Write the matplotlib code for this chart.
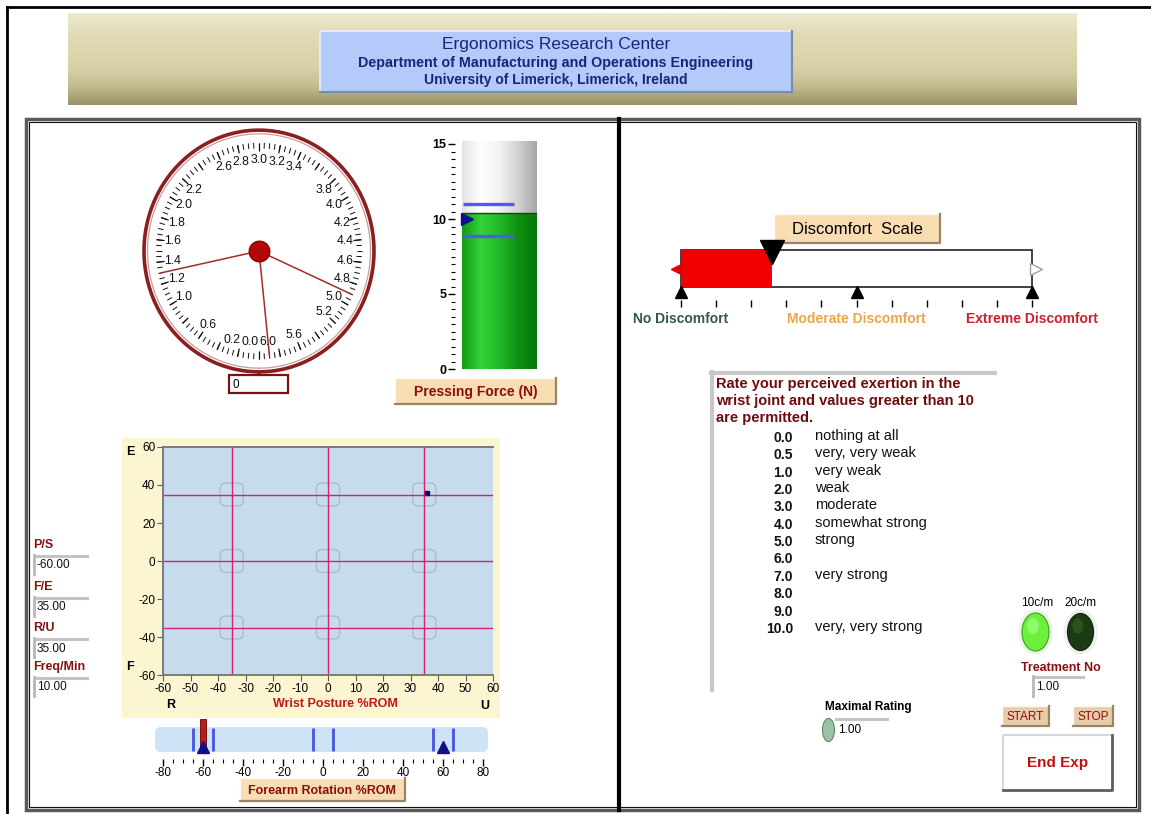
import numpy as np
import matplotlib
matplotlib.use('Agg')
import matplotlib.pyplot as plt
from matplotlib.patches import Rectangle, FancyBboxPatch, Ellipse
from matplotlib.colors import LinearSegmentedColormap
from matplotlib import font_manager

# figure size in pixels
W, H = 1151, 814

names = {f.name for f in font_manager.fontManager.ttflist}
SANS = 'Liberation Sans' if 'Liberation Sans' in names else 'DejaVu Sans'
NARROW = 'Liberation Sans Narrow' if 'Liberation Sans Narrow' in names else SANS
plt.rcParams['font.family'] = [SANS, 'DejaVu Sans']
plt.rcParams['axes.unicode_minus'] = False

# ---- data ----
gauge_needles = [1.3, 5.9, 4.9]
gauge_labels = [0.0, 0.2, 0.6, 1.0, 1.2, 1.4, 1.6, 1.8, 2.0, 2.2, 2.6, 2.8, 3.0,
                3.2, 3.4, 3.8, 4.0, 4.2, 4.4, 4.6, 4.8, 5.0, 5.2, 5.6, 6.0]
gauge_readout = '0'

force = 10.4
force_limits = [8.9, 11.0]
force_target = 10.0

grid_levels = [-35, 0, 35]
posture_point = (36, 36)
field_names = ['P/S', 'F/E', 'R/U', 'Freq/Min']
field_values = [-60.0, 35.0, 35.0, 10.0]

rotation_now = -60
rotation_targets = [-60, 60]
rotation_bands = [-65, -55, -5, 5, 55, 65]

discomfort = 2.6
anchors = [0, 5, 10]
anchor_names = ['No Discomfort', 'Moderate Discomfort', 'Extreme Discomfort']
anchor_colors = ['#34584a', '#f0a448', '#d0202c']

rating_values = ['0.0', '0.5', '1.0', '2.0', '3.0', '4.0', '5.0', '6.0', '7.0', '8.0', '9.0', '10.0']
rating_words = ['nothing at all', 'very, very weak', 'very weak', 'weak', 'moderate',
                'somewhat strong', 'strong', '', 'very strong', '', '', 'very, very strong']
treatment_no = 1.0
max_rating = 1.0

DARKRED = '#8a1010'
TAN = '#f8dcb2'

fig = plt.figure(figsize=(W / 100, H / 100), dpi=100, facecolor='white')
bg = fig.add_axes([0, 0, 1, 1])
bg.set_xlim(0, W)
bg.set_ylim(H, 0)
bg.axis('off')


def px_axes(x0, y0, x1, y1, **kw):
    return fig.add_axes([x0 / W, 1 - y1 / H, (x1 - x0) / W, (y1 - y0) / H], **kw)


def button(x0, y0, x1, y1, text, color=DARKRED, size=10, weight='bold', face=TAN):
    bg.add_patch(Rectangle((x0, y0), x1 - x0, y1 - y0, fc=face, ec='none'))
    bg.plot([x0, x0, x1], [y1, y0, y0], color='#fffaf0', lw=1)
    bg.plot([x0, x1, x1], [y1, y1, y0], color='#9a8466', lw=1.6)
    bg.text((x0 + x1) / 2, (y0 + y1) / 2 + 1, text, ha='center', va='center',
            color=color, fontsize=size, fontweight=weight)


def field(x0, y0, x1, y1, text):
    bg.add_patch(Rectangle((x0, y0), x1 - x0, y1 - y0, fc='white', ec='none'))
    bg.plot([x0 + 2, x1], [y0 + 1, y0 + 1], color='#c4c4c4', lw=2.2)
    bg.plot([x0 + 1, x0 + 1], [y0, y1], color='#b8b8b8', lw=2)
    bg.text(x0 + 4, (y0 + y1) / 2 + 1, text, ha='left', va='center', fontsize=8.5, color='#101010')


# ---- frames ----
bg.plot([7, 7], [7, H], color='black', lw=2)
bg.plot([7, W], [7, 7], color='black', lw=2)

head = LinearSegmentedColormap.from_list('head', ['#eeeacf', '#e2dcb8', '#ddd6ae', '#d8d1a7', '#c4bc8e', '#9a926c'])
bg.imshow(np.linspace(0, 1, 64)[:, None], extent=(68, 1077, 105, 13), cmap=head,
          aspect='auto', interpolation='bilinear')
bg.add_patch(Rectangle((320, 31), 472, 61, fc='#b3cafa', ec='none'))
bg.plot([320, 320, 792], [92, 31, 31], color='#e8f0ff', lw=1.2)
bg.plot([320, 792, 792], [92, 92, 31], color='#7c8aa6', lw=1.5)
bg.text(556, 44, 'Ergonomics Research Center', ha='center', va='center',
        fontsize=12.5, color='#1a2478', family=NARROW)
bg.text(556, 62.5, 'Department of Manufacturing and Operations Engineering', ha='center',
        va='center', fontsize=10.3, color='#1a2478', fontweight='bold', family=NARROW)
bg.text(556, 80, 'University of Limerick, Limerick, Ireland', ha='center', va='center',
        fontsize=10, color='#1a2478', fontweight='bold', family=NARROW)

bg.add_patch(Rectangle((26, 119), 1113, 691, fc='none', ec='#5a5a5a', lw=2.5))
bg.add_patch(Rectangle((29, 122), 1107, 685, fc='none', ec='#101010', lw=0.8))
bg.plot([619, 619], [119, 810], color='black', lw=3)

# ---- dial gauge ----
gx = px_axes(141, 127, 377, 375, projection='polar')
gx.set_aspect('auto')
gx.set_theta_zero_location('S')
gx.set_theta_direction(-1)
gx.set_ylim(0, 1.18)
gx.set_xticks([])
gx.set_yticks([])
gx.grid(False)
gx.spines['polar'].set_visible(False)
gx.set_facecolor('none')


def to_theta(v):
    return np.asarray(v) / 6.0 * 2 * np.pi


ring = np.linspace(0, 2 * np.pi, 400)
gx.plot(ring, np.full_like(ring, 1.15), color='#8b1e1e', lw=2.6)
gx.plot(ring, np.full_like(ring, 1.115), color='#c99a9a', lw=0.9)
gx.vlines(to_theta(np.arange(0, 6, 0.05)), 0.975, 1.03, color='#111111', lw=0.7)
gx.vlines(to_theta(np.arange(0, 6, 0.2)), 0.95, 1.03, color='#111111', lw=0.9)
for v in gauge_labels:
    ha = 'center'
    th = to_theta(v)
    if v in (0.0, 0.2):
        ha = 'right'
    elif v == 6.0:
        ha = 'left'
        th = 0.0
    gx.text(th, 0.87, f'{v:.1f}', ha=ha, va='center', fontsize=8.8, color='#111111')
for v in gauge_needles:
    gx.plot([to_theta(v)] * 2, [0, 1.0], color='#a62a2a', lw=1.1)
gx.plot(0, 0, 'o', ms=15, color='#b40808', mec='#7a0000', mew=0.8)

bg.add_patch(Rectangle((229, 375), 59, 18, fc='white', ec='#7a1414', lw=1.6))
bg.text(233, 384.5, gauge_readout, ha='left', va='center', fontsize=8.5)

# ---- pressing force tube ----
tx = px_axes(462, 141, 537, 369)
green = LinearSegmentedColormap.from_list('g', ['#109c14', '#34d23a', '#22ba28', '#0d9012', '#06780a'])
glass = LinearSegmentedColormap.from_list('w', ['#e4e4e4', '#ffffff', '#f2f2f2', '#d2d2d2', '#a6a6a6'])
grad = np.linspace(0, 1, 128)[None, :]
tx.imshow(grad, extent=(0, 1, 0, force), cmap=green, aspect='auto', interpolation='bilinear')
tx.imshow(grad, extent=(0, 1, force, 15.2), cmap=glass, aspect='auto', interpolation='bilinear')
tx.axhline(force, color='#0a4a0a', lw=1)
tx.hlines(force_limits, 0.02, 0.7, color='#4a5ee8', lw=2.4)
tx.plot(0.07, force_target, marker='>', ms=8, color='#10108a', clip_on=False)
tx.set_xlim(0, 1)
tx.set_ylim(0, 15.2)
for s in ['top', 'right', 'bottom']:
    tx.spines[s].set_visible(False)
tx.spines['left'].set_position(('outward', 5))
tx.spines['left'].set_color('none')
tx.set_xticks([])
tx.set_yticks([0, 5, 10, 15])
tx.set_yticks(np.arange(0, 15.01, 0.5), minor=True)
tx.tick_params(axis='y', which='major', length=5, width=1, labelsize=9, pad=1)
tx.tick_params(axis='y', which='minor', length=3, width=0.8)
for lab in tx.get_yticklabels():
    lab.set_fontweight('bold')

button(395, 378, 556, 404, 'Pressing Force (N)', size=10)

# ---- wrist posture plot ----
bg.add_patch(Rectangle((122, 438), 378, 280, fc='#fcf5d2', ec='none'))
sx = px_axes(163, 447, 493, 675)
sx.set_facecolor('#c6dbeb')
for g in grid_levels:
    sx.axvline(g, color='#d4207a', lw=1)
    sx.axhline(g, color='#d4207a', lw=1)
for cx in grid_levels:
    for cy in grid_levels:
        sx.add_patch(FancyBboxPatch((cx - 4.2, cy - 6.0), 8.4, 12.0,
                                    boxstyle='round,pad=0,rounding_size=2',
                                    mutation_aspect=1.45, fc='none', ec='#aebccb', lw=1))
sx.plot(*posture_point, 's', ms=3, color='#101060')
sx.set_xlim(-60, 60)
sx.set_ylim(-60, 60)
sx.set_xticks(range(-60, 61, 10))
sx.set_yticks(range(-60, 61, 20))
sx.tick_params(labelsize=8.5, length=4, color='#606060', pad=1.5)
sx.spines['right'].set_visible(False)
for s in ['left', 'bottom', 'top']:
    sx.spines[s].set_color('#7a7a7a')
    sx.spines[s].set_linewidth(1.4)

bg.text(130, 452, 'E', fontsize=9, fontweight='bold', ha='center', va='center')
bg.text(130, 667, 'F', fontsize=9, fontweight='bold', ha='center', va='center')
bg.text(171, 705, 'R', fontsize=9, fontweight='bold', ha='center', va='center')
bg.text(485, 706, 'U', fontsize=9, fontweight='bold', ha='center', va='center')
bg.text(335, 704, 'Wrist Posture %ROM', fontsize=9, fontweight='bold', color='#c01818',
        ha='center', va='center')

for i, (nm, val) in enumerate(zip(field_names, field_values)):
    y = [545, 587, 628, 667][i]
    bg.text(33, y, nm, fontsize=9, fontweight='bold', color=DARKRED, ha='left', va='center')
    field(33, y + 10, 87, y + 29, f'{val:.2f}')

# ---- forearm rotation slider ----
rx = px_axes(155, 727, 488, 752)
rx.set_facecolor('none')
rx.add_patch(FancyBboxPatch((-84, 0), 166.5, 1, boxstyle='round,pad=0,rounding_size=3',
                            mutation_aspect=0.08, fc='#cfe3f7', ec='none', clip_on=False))
rx.vlines(rotation_bands, 0.04, 0.96, color='#4455dd', lw=2)
rx.bar(rotation_now, 1.16, bottom=0.16, width=3, color='#b81c1c', ec='#6a0000', lw=0.6,
       clip_on=False, zorder=3)
rx.plot(rotation_targets, [0.2, 0.2], '^', ms=9, color='#10108a', clip_on=False, zorder=4)
rx.set_xlim(-84, 82.5)
rx.set_ylim(0, 1)
for s in ['top', 'right', 'left']:
    rx.spines[s].set_visible(False)
rx.spines['bottom'].set_position(('outward', 5))
rx.spines['bottom'].set_color('none')
rx.set_yticks([])
rx.set_xticks(range(-80, 81, 20))
rx.set_xticks(range(-80, 81, 5), minor=True)
rx.tick_params(axis='x', which='major', length=5, width=1, labelsize=8.5, pad=1)
rx.tick_params(axis='x', which='minor', length=3, width=0.8)
bg.text(162, 742, 'P', fontsize=9, fontweight='bold', ha='center', va='center')
bg.text(484, 742, 'S', fontsize=9, fontweight='bold', ha='center', va='center')
button(240, 778, 405, 801, 'Forearm Rotation %ROM', size=9)

# ---- discomfort scale ----
button(774, 214, 940, 243, 'Discomfort  Scale', color='black', size=12, weight='normal')
dx = px_axes(681, 250, 1032, 287)
dx.set_facecolor('none')
dx.add_patch(Rectangle((0, 0), 10, 1, fc='white', ec='#202020', lw=1.2, clip_on=False))
dx.barh(0.5, discomfort, height=1, left=0, color='#f20000', ec='none')
dx.plot(discomfort, 0.95, 'v', ms=17, color='black', clip_on=False, zorder=4)
dx.plot(anchors, [-0.13] * 3, '^', ms=8, color='black', clip_on=False)
dx.plot(-0.12, 0.5, '<', ms=8, color='#e00000', clip_on=False)
dx.plot(10.12, 0.5, '>', ms=9, mfc='white', mec='#a0a0a0', clip_on=False)
dx.set_xlim(0, 10)
dx.set_ylim(0, 1)
for s in ['top', 'right', 'left']:
    dx.spines[s].set_visible(False)
dx.spines['bottom'].set_position(('outward', 9))
dx.spines['bottom'].set_color('none')
dx.set_yticks([])
dx.set_xticks(range(11))
dx.tick_params(axis='x', length=5, width=1, labelbottom=False)
for a, nm, c in zip(anchors, anchor_names, anchor_colors):
    dx.text(a, -0.86, nm, ha='center', va='center', color=c, fontsize=10,
            fontweight='bold', clip_on=False)

# ---- rating text ----
bg.plot([712, 712], [372, 690], color='#c8c8c8', lw=3)
bg.plot([711, 995], [373, 373], color='#c8c8c8', lw=3)
for i, line in enumerate(['Rate your perceived exertion in the',
                          'wrist joint and values greater than 10',
                          'are permitted.']):
    bg.text(716, 384 + 17 * i, line, ha='left', va='center', fontsize=10.5,
            fontweight='bold', color='#6e0c0c')
for i, (v, wd) in enumerate(zip(rating_values, rating_words)):
    y = 438 + 17.35 * i
    bg.text(793, y, v, ha='right', va='center', fontsize=10, fontweight='bold', color='#111111')
    bg.text(815, y - 2, wd, ha='left', va='center', fontsize=10.5, color='#111111')

# ---- lights and controls ----
bg.text(1037, 603, '10c/m', ha='center', va='center', fontsize=8.5)
bg.text(1081, 603, '20c/m', ha='center', va='center', fontsize=8.5)
bg.add_patch(Ellipse((1035.5, 632), 34, 45, fc='#e6f6e0', ec='none'))
bg.add_patch(Ellipse((1080.5, 632), 34, 45, fc='#eef0ee', ec='none'))
bg.add_patch(Ellipse((1035.5, 632), 27, 38, fc='#6cf03c', ec='#3aa020', lw=0.8))
bg.add_patch(Ellipse((1033, 626), 12, 16, fc='#a2ff7a', ec='none', alpha=0.7))
bg.add_patch(Ellipse((1080.5, 632), 26, 37, fc='#1c3a14', ec='#0c200a', lw=0.8))
bg.add_patch(Ellipse((1078, 626), 11, 15, fc='#2e5a24', ec='none', alpha=0.8))
bg.text(1061, 668, 'Treatment No', ha='center', va='center', fontsize=9,
        fontweight='bold', color=DARKRED)
field(1032, 676, 1083, 696, f'{treatment_no:.2f}')

bg.text(868, 707, 'Maximal Rating', ha='center', va='center', fontsize=8.5, fontweight='bold')
bg.add_patch(Ellipse((828.5, 730), 12, 23, fc='#98c4a6', ec='#5e8a6c', lw=0.8))
bg.plot([836, 887], [719, 719], color='#c4c4c4', lw=2.2)
bg.text(838, 730, f'{max_rating:.2f}', ha='left', va='center', fontsize=8.5)

button(1002, 706, 1049, 726, 'START', size=8.5, weight='normal', face='#e8cca8')
button(1073, 706, 1113, 726, 'STOP', size=8.5, weight='normal', face='#e8cca8')
bg.add_patch(Rectangle((1003, 735), 109, 55, fc='white', ec='none'))
bg.plot([1003, 1003, 1112], [790, 735, 735], color='#d8d8d8', lw=1.5)
bg.plot([1003, 1112, 1112], [790, 790, 735], color='#5c5c5c', lw=2)
bg.text(1057.5, 763, 'End Exp', ha='center', va='center', fontsize=11,
        fontweight='bold', color='#c01010')

fig.savefig('out.png', dpi=100, facecolor='white')
